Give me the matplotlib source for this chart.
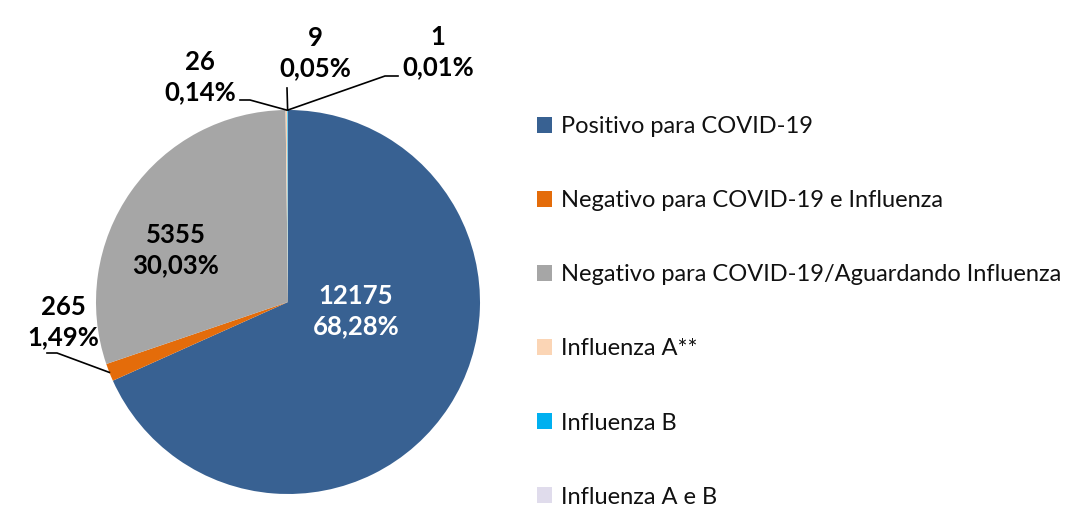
import numpy as np
import matplotlib
matplotlib.use("Agg")
from matplotlib import pyplot as plt

plt.rcParams['font.family'] = ['Lato', 'DejaVu Sans']

categories = ["Positivo para COVID-19",
              "Negativo para COVID-19 e Influenza",
              "Negativo para COVID-19/Aguardando Influenza",
              "Influenza A**",
              "Influenza B",
              "Influenza A e B"]
counts = [12175, 265, 5355, 26, 9, 1]
percents = ["68,28%", "1,49%", "30,03%", "0,14%", "0,05%", "0,01%"]
colors = ["#386192", "#E46C0A", "#A6A6A6", "#FBD5B5", "#00B0F0", "#E0DCEC"]

W, H = 1075, 509
fig = plt.figure(figsize=(W / 100, H / 100), dpi=100)

# pie centre and radius in pixels
cx, cy, r = 288, 302, 192
ax = fig.add_axes([(cx - r) / W, (H - cy - r) / H, 2 * r / W, 2 * r / H])
ax.axis('off')

wedges, _ = ax.pie(counts, colors=colors, startangle=90, counterclock=False,
                   radius=1, wedgeprops=dict(linewidth=0))
ax.set_xlim(-1, 1)
ax.set_ylim(-1, 1)

def px(x, y):
    # pixel -> data coords of the pie axes
    return (x - cx) / r, (cy - y) / r

def rim(w):
    a = np.deg2rad((w.theta1 + w.theta2) / 2)
    return np.cos(a), np.sin(a)

# label text centres (pixels) and leader elbow (pixels) or None
label_pos = [(356, 311), (63, 322), (176, 250), (200, 77), (315, 53), (438, 52)]
elbows = [None, [(47, 353), (57, 353)], None, [(240, 100), (250, 100)],
          [(287, 88)], [(398, 76), (385, 76)]]

for i, w in enumerate(wedges):
    tx, ty = px(*label_pos[i])
    col = 'white' if i == 0 else 'black'
    ax.text(tx, ty, "%d\n%s" % (counts[i], percents[i]), ha='center',
            va='center', fontsize=18.5, fontweight='bold', color=col,
            linespacing=1.3)
    if elbows[i] is not None:
        pts = [px(*p) for p in elbows[i]] + [rim(w)]
        xs, ys = zip(*pts)
        ax.plot(xs, ys, color='black', lw=1.2, clip_on=False,
                solid_joinstyle='miter')

leg = fig.legend(wedges, categories, loc='upper left',
                 bbox_to_anchor=(537 / W, 1 - 116 / H), frameon=False,
                 fontsize=17, labelspacing=2.25, handlelength=0.65,
                 handleheight=0.65, handletextpad=0.35, borderpad=0,
                 borderaxespad=0)
for t in leg.get_texts():
    t.set_color('#111111')

fig.savefig("out.png", dpi=100)
